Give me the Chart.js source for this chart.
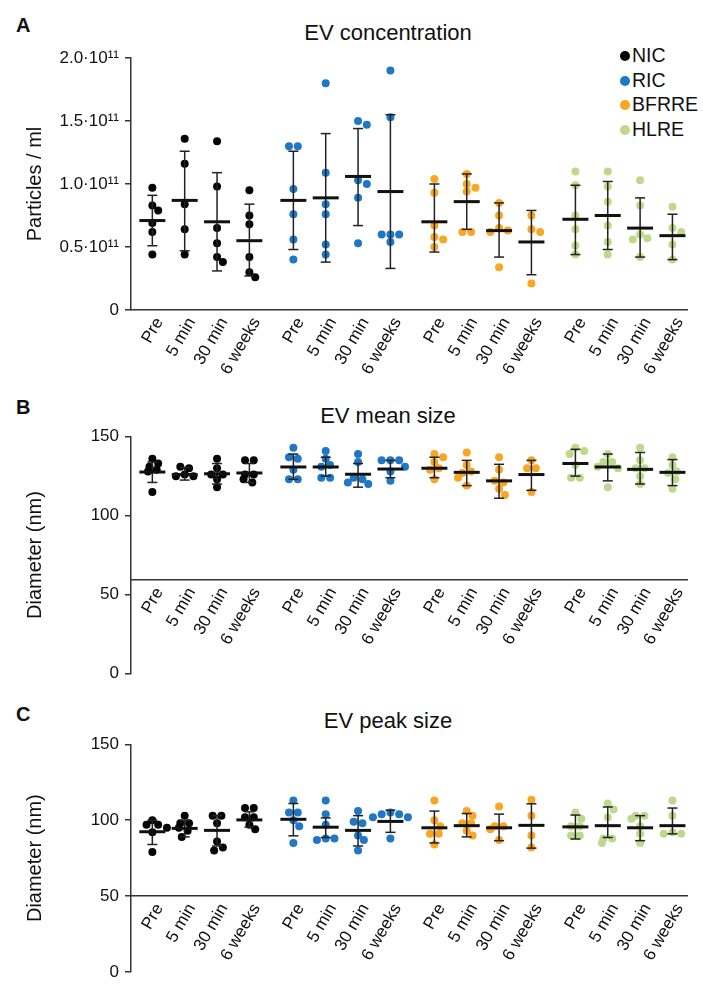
<!DOCTYPE html>
<html>
<head>
<meta charset="utf-8">
<title>EV concentration and size</title>
<script src="https://cdn.jsdelivr.net/npm/chart.js"></script>
<style>
  html, body { margin: 0; padding: 0; background: #fff; overflow: hidden; }
  body { width: 703px; height: 988px; position: relative; font-family: "Liberation Sans", Arial, sans-serif; color: #111; }
  canvas { position: absolute; left: 0; }
  .txt { position: absolute; line-height: 1; white-space: nowrap; }
  .letter { font-size: 20px; font-weight: bold; left: 16px; }
  .title { font-size: 22px; width: 300px; left: 238px; text-align: center; }
  #legend { position: absolute; left: 620px; top: 43px; font-size: 19.5px; line-height: 24.5px; }
  #legend span { display: inline-block; width: 10px; height: 10px; border-radius: 50%; margin-right: 2px; vertical-align: 1px; }
</style>
</head>
<body>
<div class="txt letter" style="top:15px">A</div>
<div class="txt letter" style="top:397px">B</div>
<div class="txt letter" style="top:704px">C</div>
<div class="txt title" style="top:22px">EV concentration</div>
<div class="txt title" style="top:405px">EV mean size</div>
<div class="txt title" style="top:710px">EV peak size</div>
<div id="legend"></div>

<canvas id="concChart" width="703" height="400" style="top:0px"></canvas>
<canvas id="sizeChart" width="703" height="290" style="top:400px"></canvas>
<canvas id="peakChart" width="703" height="298" style="top:690px"></canvas>

<script>
const groups = ["NIC", "RIC", "BFRRE", "HLRE"];
const timepoints = ["Pre", "5 min", "30 min", "6 weeks"];

// A: EV concentration, particles / ml in units of 10^11 (per timepoint)
const concNIC   = [[0.97, 0.83, 0.79, 0.69, 0.62, 0.44], [1.36, 1.16, 0.84, 0.64, 0.44], [1.34, 0.98, 0.65, 0.53, 0.42, 0.38], [0.95, 0.75, 0.68, 0.42, 0.30, 0.26]];
const concRIC   = [[1.30, 1.30, 0.96, 0.76, 0.56, 0.40], [1.80, 1.09, 0.84, 0.76, 0.52, 0.44], [1.50, 1.47, 1.03, 1.00, 0.89, 0.53], [1.90, 1.53, 0.60, 0.60, 0.60, 0.54]];
const concBFRRE = [[1.04, 0.93, 0.67, 0.58, 0.56, 0.50], [1.08, 1.00, 0.97, 0.94, 0.62, 0.62], [0.85, 0.75, 0.65, 0.63, 0.62, 0.34], [0.75, 0.64, 0.62, 0.21]];
const concHLRE  = [[1.10, 0.99, 0.75, 0.64, 0.51, 0.44], [1.10, 0.98, 0.86, 0.67, 0.54, 0.44], [1.03, 0.83, 0.60, 0.57, 0.56, 0.42], [0.82, 0.65, 0.62, 0.52, 0.40]];
const concMean   = [0.71, 0.87, 0.70, 0.55, 0.87, 0.89, 1.06, 0.94, 0.70, 0.86, 0.63, 0.54, 0.72, 0.75, 0.65, 0.59];
const concSdLow  = [0.51, 0.47, 0.31, 0.27, 0.48, 0.38, 0.67, 0.33, 0.46, 0.64, 0.42, 0.28, 0.44, 0.48, 0.42, 0.40];
const concSdHigh = [0.91, 1.26, 1.09, 0.84, 1.26, 1.40, 1.44, 1.55, 1.00, 1.08, 0.85, 0.79, 0.99, 1.02, 0.89, 0.76];
const concTicks  = [0, 0.5, 1.0, 1.5, 2.0];

// B: EV mean size, nm
const sizeNIC   = [[136, 133, 131, 129, 128, 115], [131, 130, 126, 125, 125], [136, 130, 126, 126, 123, 118], [135, 135, 126, 126, 123, 121]];
const sizeRIC   = [[143, 137, 136, 129, 123, 123], [141, 136, 132, 131, 124, 124], [139, 134, 124, 123, 121, 120], [135, 135, 135, 131, 128, 122]];
const sizeBFRRE = [[139, 137, 134, 130, 129, 123], [140, 132, 128, 127, 124, 119], [137, 129, 122, 121, 117, 113], [135, 130, 130, 115]];
const sizeHLRE  = [[143, 141, 139, 132, 124, 124], [139, 134, 134, 131, 130, 118], [143, 135, 130, 130, 125, 120], [137, 132, 128, 127, 123, 117]];
const sizeMean   = [127.6, 126, 126.5, 127, 130.8, 130.8, 126.2, 129.5, 130, 127.4, 122, 126, 133, 130.8, 129.3, 127.4];
const sizeSdLow  = [121, 122.5, 120, 121, 123, 125, 118, 124, 124, 119, 111, 116, 125, 122, 120, 119];
const sizeSdHigh = [134, 130.5, 133, 133, 139, 137, 133, 135, 137, 135, 132.5, 135, 142, 139, 140, 135.5];
const sizeTicks  = [0, 50, 100, 150];

// C: EV peak size, nm
const peakNIC   = [[100, 97, 97, 95, 92, 79], [103, 98, 98, 95, 93, 89], [103, 103, 98, 86, 82, 80], [108, 108, 102, 102, 97, 94]];
const peakRIC   = [[113, 105, 105, 100, 96, 85], [113, 104, 97, 88, 88, 87], [106, 99, 98, 90, 87, 80], [105, 104, 104, 102, 102, 88]];
const peakBFRRE = [[113, 100, 96, 91, 91, 84], [106, 103, 98, 98, 93, 90], [109, 96, 96, 94, 87], [113.5, 103, 90, 82]];
const peakHLRE  = [[105, 101, 96, 96, 90, 90], [111, 107, 102, 88, 88, 85], [103, 103, 101, 96, 91, 85], [113, 103, 92, 91, 91]];
const peakMean   = [92.4, 94.6, 93.3, 100.2, 100.6, 95.4, 93.3, 99.2, 95, 96.4, 95, 96.6, 95.6, 96.4, 95, 96.4];
const peakSdLow  = [84, 89, 83, 95.5, 89.7, 88.6, 83, 92, 85, 89, 86.5, 81.6, 87.6, 88.6, 86.5, 91];
const peakSdHigh = [100, 100, 103, 105.5, 111, 101.5, 103, 106.6, 106, 104.4, 104, 110.8, 103.4, 108.7, 103, 108];
const peakTicks  = [0, 50, 100, 150];

// styles / layout
const groupColors = ["#050505", "#1f77c6", "#f8a623", "#bcd98c"];
const FONT = '"Liberation Sans", Arial, sans-serif';
const X_MIN = -0.66, X_MAX = 16.53, GROUP_STEP = 4.36;
const PLOT_LEFT = 131, PLOT_RIGHT = 703;
const PX_PER_X = (PLOT_RIGHT - PLOT_LEFT) / (X_MAX - X_MIN);
const DOT_R = 4;

Chart.defaults.font.family = FONT;
Chart.defaults.color = "#111";

function xPos(g, t) { return g * GROUP_STEP + t; }

// simple beeswarm: horizontal pixel offsets so dots don't overlap much
function swarm(vals, pxPerY) {
  const order = vals.map((v, i) => i).sort((a, b) => vals[b] - vals[a]);
  const placed = [];
  const off = new Array(vals.length).fill(0);
  order.forEach(i => {
    const y = vals[i] * pxPerY;
    for (let k = 0; k < 30; k++) {
      const dx = (k % 2 ? 1 : -1) * Math.ceil(k / 2) * 3;
      const hit = placed.some(p => Math.hypot(p.x - dx, p.y - y) < DOT_R * 2 - 0.8);
      if (!hit) { placed.push({x: dx, y: y, i: i}); off[i] = dx; break; }
    }
  });
  // centre rows of equal height
  placed.forEach(p => {
    const row = placed.filter(q => Math.abs(q.y - p.y) < 2);
    if (row.length > 1) {
      const m = row.reduce((s, q) => s + q.x, 0) / row.length;
      row.forEach(q => { off[q.i] = q.x - m; });
    }
  });
  return off;
}

function makePanel(id, perGroup, means, lows, highs, ticks, yMax, xAxisAt, tickFmt, yTitle, pad) {
  const canvas = document.getElementById(id);
  const plotH = canvas.height - pad.top - pad.bottom;
  const pxPerY = plotH / yMax;

  const dotSets = perGroup.map((series, g) => {
    const data = [];
    series.forEach((vals, t) => {
      const off = swarm(vals, pxPerY);
      vals.forEach((v, k) => data.push({x: xPos(g, t) + off[k] / PX_PER_X, y: v}));
    });
    return {
      label: groups[g], data: data, pointRadius: DOT_R, pointBorderWidth: 0,
      backgroundColor: groupColors[g], borderColor: groupColors[g], clip: false
    };
  });

  const cats = [];
  groups.forEach((_, g) => timepoints.forEach((_, t) => cats.push(xPos(g, t))));

  const whisker = [];
  cats.forEach((x, i) => { whisker.push({x: x, y: lows[i]}, {x: x, y: highs[i]}, {x: x, y: null}); });
  const caps = [];
  cats.forEach((x, i) => { caps.push({x: x, y: lows[i]}, {x: x, y: highs[i]}); });

  new Chart(canvas, {
    type: "scatter",
    data: {
      datasets: [
        { label: "mean", data: cats.map((x, i) => ({x: x, y: means[i]})), pointStyle: "line",
          pointRadius: 13, pointBorderWidth: 3, borderColor: "#111", clip: false },
        { label: "sd", data: whisker, showLine: true, spanGaps: false, borderColor: "#222",
          borderWidth: 1.5, pointRadius: 0, clip: false },
        { label: "caps", data: caps, pointStyle: "line", pointRadius: 5, pointBorderWidth: 1.5,
          borderColor: "#222", clip: false }
      ].concat(dotSets)
    },
    options: {
      responsive: false,
      animation: false,
      events: [],
      layout: { padding: { top: pad.top, bottom: pad.bottom, left: 0, right: 0 } },
      plugins: { legend: { display: false }, tooltip: { enabled: false } },
      scales: {
        x: {
          type: "linear", min: X_MIN, max: X_MAX,
          position: { y: xAxisAt },
          grid: { display: false, drawTicks: false },
          border: { display: true, color: "#333", width: 1.5 },
          afterBuildTicks: s => { s.ticks = cats.map(v => ({ value: v })); },
          afterFit: s => { s.paddingLeft = 0; s.paddingRight = 0; },
          ticks: {
            autoSkip: false, maxRotation: 60, minRotation: 60, padding: 4, labelOffset: 7,
            font: { size: 17 }, color: "#111",
            callback: (v, i) => timepoints[i % 4]
          }
        },
        y: {
          min: 0, max: yMax,
          afterBuildTicks: s => { s.ticks = ticks.map(v => ({ value: v })); },
          afterFit: s => { s.width = PLOT_LEFT; s.paddingTop = 0; s.paddingBottom = 0; },
          grid: { drawOnChartArea: false, drawTicks: true, tickLength: 6, color: "#333", lineWidth: 1.5 },
          border: { display: true, color: "#333", width: 1.5 },
          ticks: { padding: 6, font: { size: 17 }, color: "#111", callback: tickFmt },
          title: { display: true, text: yTitle, font: { size: 20 }, color: "#111", padding: { top: 23, bottom: 0 } }
        }
      }
    }
  });
}

makePanel("concChart", [concNIC, concRIC, concBFRRE, concHLRE], concMean, concSdLow, concSdHigh,
  concTicks, 2.0, 0, v => (v === 0 ? "0" : v.toFixed(1) + "·10¹¹"), "Particles / ml", { top: 58, bottom: 90 });

makePanel("sizeChart", [sizeNIC, sizeRIC, sizeBFRRE, sizeHLRE], sizeMean, sizeSdLow, sizeSdHigh,
  sizeTicks, 150, 59, v => String(v), "Diameter (nm)", { top: 36.7, bottom: 16.7 });

makePanel("peakChart", [peakNIC, peakRIC, peakBFRRE, peakHLRE], peakMean, peakSdLow, peakSdHigh,
  peakTicks, 150, 50, v => String(v), "Diameter (nm)", { top: 54.3, bottom: 6.3 });

// legend
const legend = document.getElementById("legend");
groups.forEach((g, i) => {
  const row = document.createElement("div");
  row.innerHTML = '<span style="background:' + groupColors[i] + '"></span>' + g;
  legend.appendChild(row);
});
</script>
</body>
</html>
